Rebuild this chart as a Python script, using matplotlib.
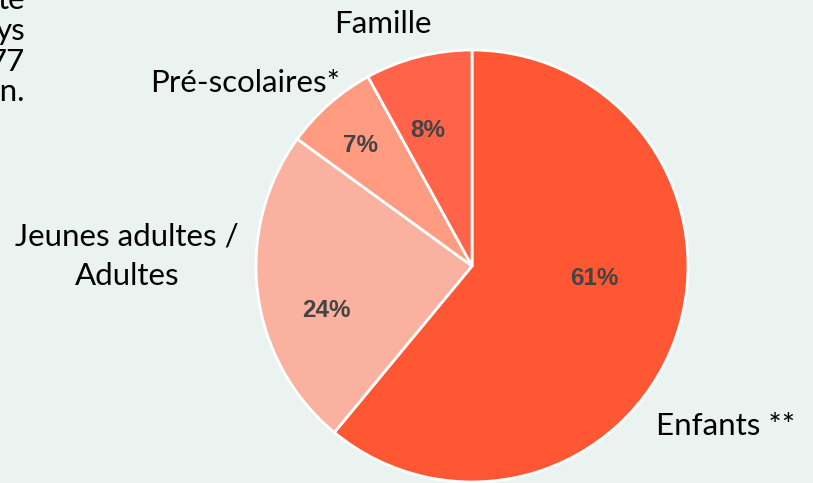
import numpy as np
import matplotlib
matplotlib.use("Agg")
import matplotlib.pyplot as plt

# data
categories = ["Enfants **", "Jeunes adultes /\nAdultes", "Pré-scolaires*", "Famille"]
shares = [61, 24, 7, 8]
pct_labels = ["61%", "24%", "7%", "8%"]
colors = ["#ff5733", "#fab1a0", "#fe9b80", "#ff644b"]
# clipped paragraph at the left edge of the slide
side_text = ["te", "ys", "77", "on."]

# label placement (pie radius = 1, centre at 0,0)
pct_pos = [(0.565, -0.058), (-0.676, -0.204), (-0.514, 0.556), (-0.204, 0.625)]
cat_pos = [(1.176, -0.782), (-1.597, 0.097), (-1.051, 0.806), (-0.412, 1.079)]
line_step = 0.185
side_x = -2.069
side_y = [1.190, 1.046, 0.903, 0.764]

bg = "#eaf3f0"
W, H, R = 813, 483, 216
cx, cy = 472, 266

fig = plt.figure(figsize=(W / 100, H / 100), dpi=100, facecolor=bg)
ax = fig.add_axes([0, 0, 1, 1])
ax.set_facecolor(bg)

ax.pie(shares, colors=colors, startangle=90, counterclock=False, radius=1,
       wedgeprops=dict(edgecolor="white", linewidth=2))

for txt, (x, y) in zip(pct_labels, pct_pos):
    ax.text(x, y, txt, ha="center", va="center", fontsize=17.5, fontweight="bold",
            color="#444444", family="Liberation Sans")

for lab, (x, y) in zip(categories, cat_pos):
    for i, line in enumerate(lab.split("\n")):
        ax.text(x, y - i * line_step, line, ha="center", va="baseline",
                fontsize=22.5, color="black", family="Lato")

for txt, y in zip(side_text, side_y):
    ax.text(side_x, y, txt, ha="right", va="baseline", fontsize=22.5,
            color="black", family="Lato")

ax.set_xlim(-cx / R, (W - cx) / R)
ax.set_ylim(-(H - cy) / R, cy / R)
ax.set_aspect("auto")
ax.axis("off")

fig.savefig("out.png", dpi=100, facecolor=bg)
